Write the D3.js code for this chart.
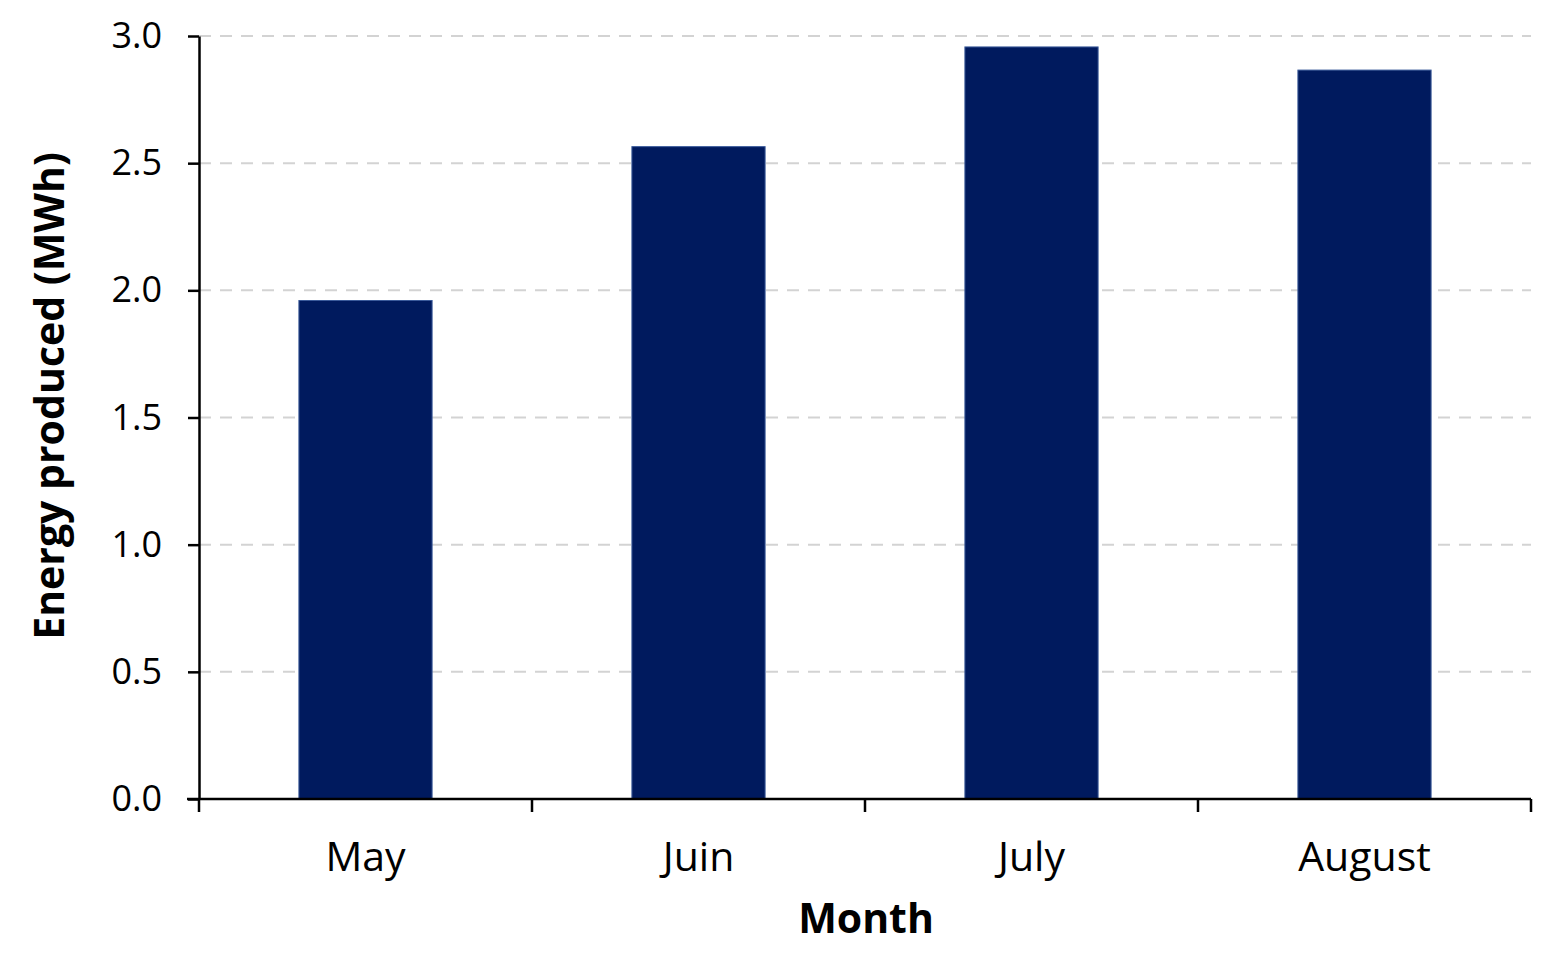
<!DOCTYPE html>
<html>
<head>
<meta charset="utf-8">
<script src="https://cdn.jsdelivr.net/npm/d3@7"></script>
<style>
  html, body { margin: 0; padding: 0; background: #fff; }
  svg text { font-family: "Open Sans", "Noto Sans", sans-serif; }
</style>
</head>
<body>
<svg id="chart" width="1541" height="953"></svg>
<script>
const months = ["May", "Juin", "July", "August"];
const energy = [1.96, 2.565, 2.957, 2.866];
const yTicks = [0, 0.5, 1.0, 1.5, 2.0, 2.5, 3.0];

const svg = d3.select("#chart");
const m = { left: 199, right: 1531, top: 36, bottom: 799 };

const x = d3.scaleBand().domain(months).range([m.left, m.right]).paddingInner(0.6).paddingOuter(0.3);
const y = d3.scaleLinear().domain([0, 3]).range([m.bottom, m.top]);

// gridlines
svg.append("g").selectAll("line").data(yTicks.filter(d => d > 0)).join("line")
  .attr("x1", m.left).attr("x2", m.right)
  .attr("y1", d => y(d)).attr("y2", d => y(d))
  .attr("stroke", "#d3d3d3").attr("stroke-width", 2).attr("stroke-dasharray", "12,9");

// bars
svg.append("g").selectAll("rect").data(months).join("rect")
  .attr("x", d => x(d)).attr("width", x.bandwidth())
  .attr("y", (d, i) => y(energy[i])).attr("height", (d, i) => y(0) - y(energy[i]))
  .attr("fill", "#001a5e").attr("stroke", "#3a5a9a").attr("stroke-width", 1);

// y axis
const yAxis = d3.axisLeft(y).tickValues(yTicks).tickFormat(d3.format(".1f")).tickSize(11).tickSizeOuter(0).tickPadding(26);
const gy = svg.append("g").attr("transform", `translate(${m.left},0)`).call(yAxis);
gy.selectAll("text").attr("font-size", 36).attr("fill", "#000");
gy.selectAll("line, path").attr("stroke", "#000").attr("stroke-width", 2.5);

// x axis
const xPos = d3.scaleLinear().domain([0, months.length]).range([m.left, m.right]);
const gx = svg.append("g").attr("transform", `translate(0,${m.bottom})`);
gx.append("line").attr("x1", m.left - 12).attr("x2", m.right).attr("stroke", "#000").attr("stroke-width", 2.5);
gx.selectAll(".tk").data(d3.range(months.length + 1)).join("line")
  .attr("x1", d => xPos(d)).attr("x2", d => xPos(d)).attr("y1", 0).attr("y2", 13)
  .attr("stroke", "#000").attr("stroke-width", 2.5);
gx.selectAll(".lbl").data(months).join("text")
  .attr("x", d => x(d) + x.bandwidth() / 2).attr("y", 72)
  .attr("text-anchor", "middle").attr("font-size", 41).attr("fill", "#000").text(d => d);

// axis titles
svg.append("text").attr("x", 866).attr("y", 933).attr("text-anchor", "middle")
  .attr("font-size", 41).attr("font-weight", "bold").text("Month");
svg.append("text").attr("transform", "translate(64,396) rotate(-90)").attr("text-anchor", "middle")
  .attr("font-size", 41).attr("font-weight", "bold").text("Energy produced (MWh)");
</script>
</body>
</html>
